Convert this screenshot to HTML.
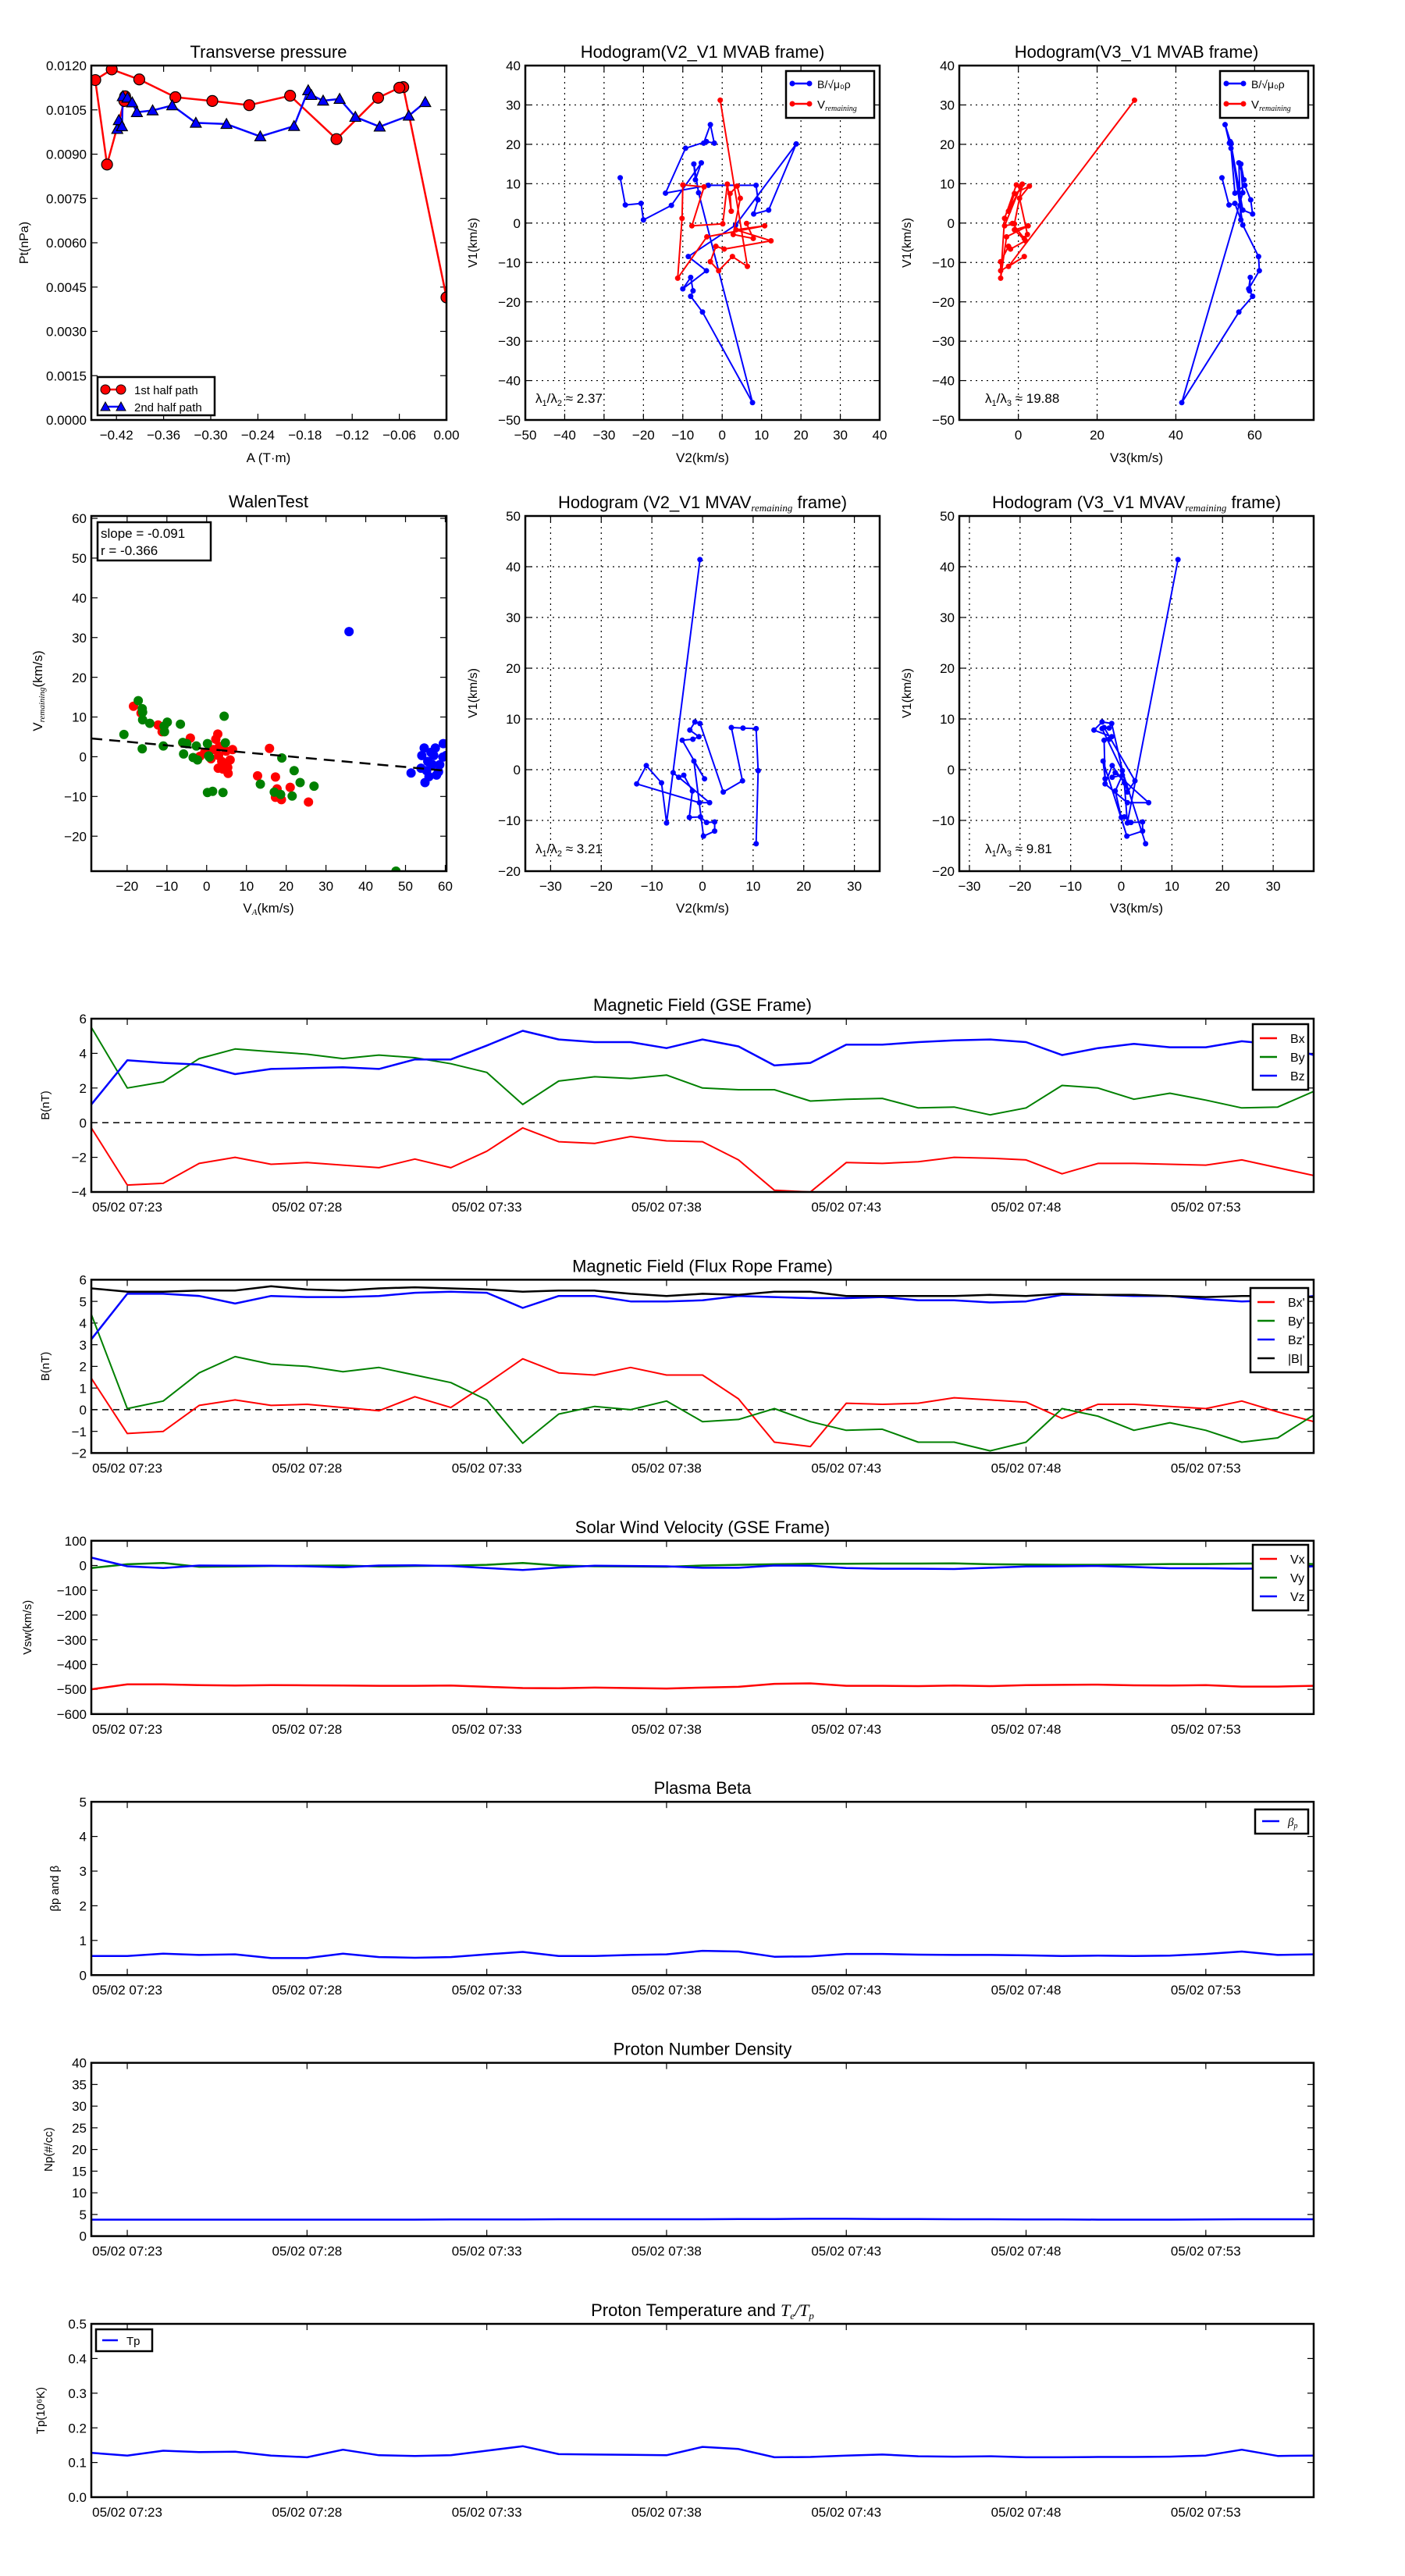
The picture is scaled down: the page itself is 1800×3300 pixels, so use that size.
<!DOCTYPE html>
<html><head><meta charset="utf-8"><title>Flux rope analysis</title>
<style>
html,body{margin:0;padding:0;background:#fff;}
svg{display:block;font-family:"Liberation Sans","DejaVu Sans",sans-serif;}
</style></head>
<body>
<svg id="chart" xmlns="http://www.w3.org/2000/svg" width="1800" height="3300" viewBox="0 0 1800 3300">
<rect x="0" y="0" width="1800" height="3300" fill="#fff"/>
<defs id="defs"></defs>
</svg>
<script>
// ---------- Transverse pressure data ----------
const ptA1 = [0,-0.055,-0.060,-0.087,-0.140,-0.199,-0.251,-0.298,-0.345,-0.391,-0.426,-0.447,-0.432,-0.410,-0.409];
const ptP1 = [0.00415,0.01127,0.01125,0.01091,0.00951,0.01098,0.01066,0.0108,0.01093,0.01153,0.01187,0.01151,0.00865,0.0108,0.01096];
const ptA2 = [-0.419,-0.417,-0.413,-0.412,-0.406,-0.400,-0.394,-0.374,-0.349,-0.319,-0.280,-0.237,-0.194,-0.176,-0.172,-0.157,-0.136,-0.116,-0.085,-0.048,-0.027];
const ptP2 = [0.00985,0.01015,0.00994,0.01096,0.01091,0.01075,0.01042,0.01048,0.01065,0.01006,0.01002,0.0096,0.00995,0.01116,0.011,0.01081,0.01087,0.01026,0.00993,0.0103,0.01076];
const ptYTicks = [0,0.0015,0.003,0.0045,0.006,0.0075,0.009,0.0105,0.012];
const ptXTicks = [-0.42,-0.36,-0.30,-0.24,-0.18,-0.12,-0.06,0.00];

// ---------- Hodogram MVAB ----------
const hbV2 = [-4.7,-3,-2,-4,-9.3,-14.4,-3.5,8.6,9.1,8,11.8,18.8,3.4,-8.6,-4,-10,-8,-7.4,-8,-5,7.7,-6,-7.2,-6.8,-5.3,-12.9,-20,-20.6,-24.6,-25.9];
const hbV1 = [20.3,25,20.3,20.7,19,7.6,9.6,9.6,5.9,2.3,3.3,20.1,-0.5,-8.5,-12.1,-16.7,-13.8,-17.2,-18.6,-22.6,-45.6,7.7,15,11,15.3,4.5,0.8,5,4.6,11.5];
const hbV3 = [53.6,52.5,54,53.8,54,55,57.5,57.5,59,59.5,57,54,57,61,61.2,58.5,58.9,58.7,59.5,56,41.5,57,56.5,57.3,56,56.3,56.5,55,53.5,51.7];
const hrV2 = [-0.5,6.4,2.6,-0.9,-3,-1.6,0.5,12.4,3.5,10.8,-3.9,-11.3,-10.2,-10,-4.6,-7.7,0.15,1.3,2.3,2,3.8,4.6,2.8,7.9,6.2];
const hrV1 = [31.2,-11,-8.5,-12.1,-9.8,-5.9,-6.6,-4.5,-1.7,-0.7,-3.5,-14,1.2,9.7,9.2,-0.7,-0.2,9.9,3,7.5,9.4,6.3,-2.9,-3.9,-0.1];
const hrV3 = [29.5,-2.5,1.5,-4.5,-4.5,-2.5,-2,1.8,-1,2.5,-3,-4.5,-3.5,-0.5,0.5,-3.5,-1,1,-2.5,-1,2.8,0.3,2.3,1.5,-1.5];

// ---------- Hodogram MVAV ----------
const hvV2 = [-0.5,-7.1,-8.1,-11.1,-13,-0.6,1.4,-5.8,-4.7,-3.7,-2,-2.6,-0.4,0.8,2.4,2.4,0.2,-1.7,0.4,-4,-1.9,-0.7,-2.5,-1.5,-0.5,4.1,7.9,5.7,8,10.6,11,10.6];
const hvV1 = [41.4,-10.5,-2.6,0.8,-2.8,-6.5,-6.5,-0.6,-1.5,-1.1,-4.2,-9.4,-9.3,-10.4,-10.3,-12.1,-13.1,1.7,-1.8,5.8,6,6.5,7.8,9.4,9.1,-4.4,-2.2,8.3,8.2,8.1,-0.2,-14.6];
const hvV3 = [11.2,1.2,0.6,-1.8,-3.2,1.2,5.4,-1.2,-1.8,0.2,-1.2,0,0.6,1.9,4.2,4.2,1.1,-3.6,-3.2,-3.4,-2.4,-1.9,-5.4,-3.8,-1.9,1.2,2.7,-3.4,-2.4,-3.8,0.2,4.8];

// ---------- Walen test ----------
const wRedX = [-18.4,-16.5,-12.2,-11.2,-4.1,-6,-0.5,-1.7,1.1,1.7,2.3,2.8,3.2,3,3.8,4.4,2.9,4.1,5.4,5.9,6.5,4.9,5.3,12.8,15.8,17.3,17.7,17.3,18.8,21,25.6];
const wRedY = [12.7,11,8,6.3,4.7,3.5,1.1,0.1,-0.5,1.8,4.4,5.7,2.6,0.3,-1.2,-2,-2.9,-3.1,-4.2,-0.8,1.8,1.4,-2.7,-4.8,2.1,-5.1,-8.1,-10.2,-10.8,-7.7,-11.4];
const wGrnX = [-20.8,-17.2,-16.2,-16.1,-16.1,-16.2,-14.3,-10.7,-9.9,-10.6,-10.9,-6.6,-6,-5,-5.8,-2.6,-3.4,-2.3,0.2,0.5,0.7,4.4,4.7,0.2,1.5,4.1,13.5,17,18.6,18.9,22,21.5,23.5,27,47.6];
const wGrnY = [5.6,14.1,12.1,11.2,9.3,2,8.4,7.7,8.7,6.3,2.7,8.2,3.6,3.3,0.7,2.7,-0.2,-0.8,3.3,0.2,-0.1,10.2,3.5,-9,-8.7,-9,-6.9,-8.9,-9.5,-0.3,-3.5,-9.9,-6.5,-7.4,-28.8];
const wBluX = [35.8,51.4,54.9,53.9,54.1,54.7,57.5,59.5,55.9,57.8,56.8,58.6,55.6,59.4,60.2,56.4,58.3,55.3,57.1];
const wBluY = [31.5,-4.1,-6.5,-2.9,0.3,2.2,2.2,3.3,-5,-4.6,-2,-2,-1.2,-0.1,0.3,1.1,-3.8,-3.5,0.3];
const wSlope = -0.091;
const wIntercept = 1.96;

// ---------- Time series (one point per minute from 07:22) ----------
const tMinutes = [0,1,2,3,4,5,6,7,8,9,10,11,12,13,14,15,16,17,18,19,20,21,22,23,24,25,26,27,28,29,30,31,32,33,34];
const timeTickIdx = [1,6,11,16,21,26,31];
const timeTickLabels = ["05/02 07:23","05/02 07:28","05/02 07:33","05/02 07:38","05/02 07:43","05/02 07:48","05/02 07:53"];
const bx = [-0.3,-3.6,-3.5,-2.35,-2.0,-2.4,-2.3,-2.45,-2.6,-2.1,-2.6,-1.65,-0.3,-1.1,-1.2,-0.8,-1.05,-1.1,-2.15,-3.9,-4.0,-2.3,-2.35,-2.25,-2.0,-2.05,-2.15,-2.95,-2.35,-2.35,-2.4,-2.45,-2.15,-2.6,-3.05];
const by = [5.5,2.0,2.35,3.7,4.25,4.1,3.95,3.7,3.9,3.75,3.4,2.9,1.05,2.4,2.65,2.55,2.75,2.0,1.9,1.9,1.25,1.35,1.4,0.85,0.9,0.45,0.85,2.15,2.0,1.35,1.7,1.3,0.85,0.9,1.8];
const bz = [1.05,3.6,3.45,3.35,2.8,3.1,3.15,3.2,3.1,3.65,3.65,4.45,5.3,4.8,4.65,4.65,4.3,4.8,4.4,3.3,3.45,4.5,4.5,4.65,4.75,4.8,4.65,3.9,4.3,4.55,4.35,4.35,4.7,4.5,3.9];
const bxp = [1.45,-1.1,-1.0,0.2,0.45,0.2,0.25,0.1,-0.05,0.6,0.1,1.2,2.35,1.7,1.6,1.95,1.6,1.6,0.5,-1.5,-1.7,0.3,0.25,0.3,0.55,0.45,0.35,-0.4,0.25,0.25,0.15,0.05,0.4,-0.1,-0.55];
const byp = [4.4,0.05,0.4,1.7,2.45,2.1,2.0,1.75,1.95,1.6,1.25,0.45,-1.55,-0.2,0.15,0.0,0.4,-0.55,-0.45,0.05,-0.55,-0.95,-0.9,-1.5,-1.5,-1.9,-1.5,0.05,-0.3,-0.95,-0.6,-0.95,-1.5,-1.3,-0.25];
const bzp = [3.25,5.35,5.35,5.25,4.9,5.25,5.2,5.2,5.25,5.4,5.45,5.4,4.7,5.25,5.25,5.0,5.0,5.05,5.25,5.2,5.15,5.15,5.2,5.05,5.05,4.95,5.0,5.3,5.3,5.25,5.25,5.1,5.0,5.05,5.25];
const bmag = [5.6,5.45,5.45,5.5,5.5,5.7,5.55,5.5,5.6,5.65,5.6,5.55,5.45,5.5,5.5,5.35,5.25,5.35,5.3,5.45,5.45,5.25,5.25,5.25,5.25,5.3,5.25,5.35,5.3,5.3,5.25,5.2,5.25,5.25,5.2];
const vx = [-500,-480,-480,-483,-485,-483,-484,-485,-486,-486,-485,-490,-495,-496,-493,-495,-497,-493,-490,-478,-476,-486,-486,-487,-485,-487,-483,-482,-481,-484,-485,-483,-489,-489,-486];
const vy = [-10,5,10,-5,-4,-2,-1,0,-4,-2,-1,3,10,0,-3,-4,-5,0,3,5,7,7,8,8,9,5,4,3,3,4,6,6,8,8,6];
const vz = [32,-3,-10,0,-1,-1,-3,-7,0,1,-2,-10,-18,-8,-1,-2,-3,-9,-9,0,-1,-10,-13,-13,-14,-9,-4,-3,-2,-6,-11,-11,-13,-12,-3];
const betaP = [0.55,0.55,0.62,0.58,0.6,0.49,0.49,0.62,0.52,0.5,0.52,0.6,0.67,0.55,0.55,0.58,0.6,0.7,0.68,0.53,0.54,0.61,0.61,0.59,0.58,0.58,0.57,0.55,0.56,0.55,0.56,0.61,0.68,0.58,0.6];
const np = [3.8,3.8,3.8,3.8,3.8,3.8,3.8,3.8,3.8,3.8,3.85,3.85,3.85,3.9,3.9,3.9,3.9,3.9,3.95,3.95,4.0,4.0,3.95,3.95,3.9,3.9,3.85,3.85,3.8,3.8,3.8,3.85,3.9,3.9,3.9];
const tp = [0.128,0.12,0.134,0.13,0.131,0.12,0.115,0.137,0.121,0.119,0.121,0.134,0.147,0.124,0.123,0.122,0.121,0.145,0.139,0.115,0.116,0.12,0.123,0.118,0.117,0.118,0.115,0.115,0.116,0.116,0.117,0.12,0.137,0.119,0.12];

const NS = 'http://www.w3.org/2000/svg';
const svg = document.getElementById('chart');
const defs = document.getElementById('defs');
let clipId = 0;

function mk(tag, parent, a) {
  const e = document.createElementNS(NS, tag);
  for (const k in a) e.setAttribute(k, a[k]);
  parent.appendChild(e);
  return e;
}
function txt(parent, x, y, s, size, anchor, name, extra) {
  const t = mk('text', parent, Object.assign({x: x, y: y, 'font-size': size, 'text-anchor': anchor || 'middle', fill: '#000'}, extra || {}));
  t.textContent = s;
  
  
  return t;
}
function fmtMinus(v, d) { const s = v.toFixed(d); return s.replace('-', '\u2212'); }

// Creates an axes frame; returns scales and a clipped plot group
function axes(name, b, xmin, xmax, ymin, ymax, o) {
  const g = mk('g', svg, {});
  
  
  const sx = v => b.x0 + (v - xmin) / (xmax - xmin) * (b.x1 - b.x0);
  const sy = v => b.y1 - (v - ymin) / (ymax - ymin) * (b.y1 - b.y0);
  const cid = 'clip' + (clipId++);
  const cp = mk('clipPath', defs, {id: cid});
  mk('rect', cp, {x: b.x0, y: b.y0, width: b.x1 - b.x0, height: b.y1 - b.y0});
  const grid = mk('g', g, {});
  
  
  const ticks = mk('g', g, {});
  
  
  const fs = o.fs || 17;
  o.xticks.forEach((v, i) => {
    const X = sx(v);
    if (o.grid) mk('line', grid, {x1: X, x2: X, y1: b.y0, y2: b.y1, stroke: '#000', 'stroke-width': 1.2, 'stroke-dasharray': '2,5'});
    mk('line', ticks, {x1: X, x2: X, y1: b.y1, y2: b.y1 - 8, stroke: '#000', 'stroke-width': 1.2});
    mk('line', ticks, {x1: X, x2: X, y1: b.y0, y2: b.y0 + 8, stroke: '#000', 'stroke-width': 1.2});
    txt(g, X, b.y1 + fs + 8, o.xlabels[i], fs, 'middle', 'x-tick-label');
  });
  o.yticks.forEach((v, i) => {
    const Y = sy(v);
    if (o.grid) mk('line', grid, {x1: b.x0, x2: b.x1, y1: Y, y2: Y, stroke: '#000', 'stroke-width': 1.2, 'stroke-dasharray': '2,5'});
    mk('line', ticks, {x1: b.x0, x2: b.x0 + 8, y1: Y, y2: Y, stroke: '#000', 'stroke-width': 1.2});
    mk('line', ticks, {x1: b.x1, x2: b.x1 - 8, y1: Y, y2: Y, stroke: '#000', 'stroke-width': 1.2});
    txt(g, b.x0 - 6, Y + fs * 0.36, o.ylabels[i], fs, 'end', 'y-tick-label');
  });
  const plot = mk('g', g, {'clip-path': 'url(#' + cid + ')'});
  
  
  return {g: g, plot: plot, sx: sx, sy: sy, b: b};
}
function frame(ax) {
  const b = ax.b;
  const r = mk('rect', ax.g, {x: b.x0, y: b.y0, width: b.x1 - b.x0, height: b.y1 - b.y0, fill: 'none', stroke: '#000', 'stroke-width': 2.5});
  
  
}
function series(ax, xs, ys, color, name, w) {
  const pts = xs.map((x, i) => ax.sx(x).toFixed(1) + ',' + ax.sy(ys[i]).toFixed(1)).join(' ');
  const p = mk('polyline', ax.plot, {points: pts, fill: 'none', stroke: color, 'stroke-width': w || 2, 'stroke-linejoin': 'round'});
  
  
  return p;
}
function dots(ax, xs, ys, color, r, name, stroke) {
  xs.forEach((x, i) => {
    const c = mk('circle', ax.plot, {cx: ax.sx(x), cy: ax.sy(ys[i]), r: r, fill: color, stroke: stroke || 'none', 'stroke-width': 1.2});
    
    
  });
}
function tris(ax, xs, ys, color, s, name) {
  xs.forEach((x, i) => {
    const X = ax.sx(x), Y = ax.sy(ys[i]);
    const t = mk('polygon', ax.plot, {points: [X, Y - s, X - s, Y + s * 0.8, X + s, Y + s * 0.8].join(','), fill: color, stroke: '#000', 'stroke-width': 1.2});
    
    
  });
}
function ylab(x, y, s, name, size) {
  const t = txt(svg, x, y, s, size || 16, 'middle', name, {transform: 'rotate(-90 ' + x + ' ' + y + ')'});
  return t;
}
function legendBox(x0, y0, x1, y1, name) {
  const r = mk('rect', svg, {x: x0, y: y0, width: x1 - x0, height: y1 - y0, fill: '#fff', stroke: '#000', 'stroke-width': 2.5});
  
  
}
function legLine(x, y, len, color, name, marker) {
  const l = mk('line', svg, {x1: x, x2: x + len, y1: y, y2: y, stroke: color, 'stroke-width': 2.5});
  
  
}

const range = (a, b, s) => { const r = []; for (let v = a; v <= b + 1e-9; v += s) r.push(+v.toFixed(6)); return r; };

// ===== Panel 1: Transverse pressure =====
{
  const ax = axes('transverse-pressure-chart', {x0: 117, x1: 572, y0: 84, y1: 538}, -0.452, 0, 0, 0.012,
    {xticks: ptXTicks, xlabels: ptXTicks.map(v => fmtMinus(v, 2)), yticks: ptYTicks, ylabels: ptYTicks.map(v => v.toFixed(4))});
  series(ax, ptA1, ptP1, '#f00', 'first-half-path-line', 2.5);
  series(ax, ptA2, ptP2, '#00f', 'second-half-path-line', 2.5);
  dots(ax, ptA1, ptP1, '#f00', 7, 'first-half-point', '#000');
  tris(ax, ptA2, ptP2, '#00f', 7, 'second-half-point');
  frame(ax);
  txt(svg, 344, 74, 'Transverse pressure', 22, 'middle', 'chart-title');
  txt(svg, 344, 592, 'A (T\u00b7m)', 17, 'middle', 'x-axis-title');
  ylab(36, 311, 'Pt(nPa)', 'y-axis-title');
  legendBox(125, 483, 275, 532, 'legend');
  legLine(135, 499, 20, '#f00', 'legend-line-first');
  mk('circle', svg, {cx: 135, cy: 499, r: 6, fill: '#f00', stroke: '#000'});
  mk('circle', svg, {cx: 155, cy: 499, r: 6, fill: '#f00', stroke: '#000'});
  txt(svg, 172, 505, '1st half path', 15, 'start', 'legend-label-first');
  legLine(135, 521, 20, '#00f', 'legend-line-second');
  mk('polygon', svg, {points: '135,515 129,526 141,526', fill: '#00f', stroke: '#000'});
  mk('polygon', svg, {points: '155,515 149,526 161,526', fill: '#00f', stroke: '#000'});
  txt(svg, 172, 527, '2nd half path', 15, 'start', 'legend-label-second');
}

function hodoLegend(x0, name) {
  legendBox(x0, 91, x0 + 113, 151, name);
  legLine(x0 + 8, 107, 22, '#00f', 'legend-line-b');
  mk('circle', svg, {cx: x0 + 8, cy: 107, r: 3.5, fill: '#00f'});
  mk('circle', svg, {cx: x0 + 30, cy: 107, r: 3.5, fill: '#00f'});
  const t1 = txt(svg, x0 + 40, 113, 'B/\u221a\u03bc\u2080\u03c1', 14, 'start', 'legend-label-b');
  legLine(x0 + 8, 133, 22, '#f00', 'legend-line-v');
  mk('circle', svg, {cx: x0 + 8, cy: 133, r: 3.5, fill: '#f00'});
  mk('circle', svg, {cx: x0 + 30, cy: 133, r: 3.5, fill: '#f00'});
  const t2 = txt(svg, x0 + 40, 139, 'V', 15, 'start', 'legend-label-v');
  const sub = mk('tspan', t2, {'font-size': 10, dy: 3, 'font-style': 'italic', 'font-family': 'Liberation Serif, serif'});
  sub.textContent = 'remaining';
}
function lambdaText(x, y, a, b, val, name) {
  const t = txt(svg, x, y, '', 17, 'start', name);
  const p = [['\u03bb', 0, 17], ['1', 4, 11], ['/\u03bb', -4, 17], [b, 4, 11], [' \u2248 ' + val, -4, 17]];
  p.forEach(q => { const s = mk('tspan', t, {dy: q[1], 'font-size': q[2]}); s.textContent = q[0]; });
}

// ===== Panel 2: Hodogram V2-V1 MVAB =====
{
  const xt = range(-50, 40, 10), yt = range(-50, 40, 10);
  const ax = axes('hodogram-v2-v1-mvab', {x0: 673, x1: 1127, y0: 84, y1: 538}, -50, 40, -50, 40,
    {grid: true, xticks: xt, xlabels: xt.map(v => fmtMinus(v, 0)), yticks: yt, ylabels: yt.map(v => fmtMinus(v, 0))});
  series(ax, hbV2, hbV1, '#00f', 'b-alfven-line', 2);
  dots(ax, hbV2, hbV1, '#00f', 3.5, 'b-alfven-point');
  series(ax, hrV2, hrV1, '#f00', 'v-remaining-line', 2);
  dots(ax, hrV2, hrV1, '#f00', 3.5, 'v-remaining-point');
  frame(ax);
  txt(svg, 900, 74, 'Hodogram(V2_V1 MVAB frame)', 22, 'middle', 'chart-title');
  txt(svg, 900, 592, 'V2(km/s)', 17, 'middle', 'x-axis-title');
  ylab(611, 311, 'V1(km/s)', 'y-axis-title');
  hodoLegend(1007, 'legend');
  lambdaText(686, 516, '1', '2', '2.37', 'eigenvalue-ratio');
}
// ===== Panel 3: Hodogram V3-V1 MVAB =====
{
  const xt = [0, 20, 40, 60], yt = range(-50, 40, 10);
  const ax = axes('hodogram-v3-v1-mvab', {x0: 1229, x1: 1683, y0: 84, y1: 538}, -15, 75, -50, 40,
    {grid: true, xticks: xt, xlabels: xt.map(v => fmtMinus(v, 0)), yticks: yt, ylabels: yt.map(v => fmtMinus(v, 0))});
  series(ax, hbV3, hbV1, '#00f', 'b-alfven-line', 2);
  dots(ax, hbV3, hbV1, '#00f', 3.5, 'b-alfven-point');
  series(ax, hrV3, hrV1, '#f00', 'v-remaining-line', 2);
  dots(ax, hrV3, hrV1, '#f00', 3.5, 'v-remaining-point');
  frame(ax);
  txt(svg, 1456, 74, 'Hodogram(V3_V1 MVAB frame)', 22, 'middle', 'chart-title');
  txt(svg, 1456, 592, 'V3(km/s)', 17, 'middle', 'x-axis-title');
  ylab(1167, 311, 'V1(km/s)', 'y-axis-title');
  hodoLegend(1563, 'legend');
  lambdaText(1262, 516, '1', '3', '19.88', 'eigenvalue-ratio');
}
// ===== Panel 4: Walen test =====
{
  const xt = range(-20, 60, 10), yt = range(-20, 60, 10);
  const ax = axes('walen-test-chart', {x0: 117, x1: 572, y0: 661, y1: 1116}, -29, 60.3, -28.8, 60.6,
    {xticks: xt, xlabels: xt.map(v => fmtMinus(v, 0)), yticks: yt, ylabels: yt.map(v => fmtMinus(v, 0))});
  dots(ax, wRedX, wRedY, '#f00', 6, 'walen-red-point');
  dots(ax, wGrnX, wGrnY, '#008000', 6, 'walen-green-point');
  dots(ax, wBluX, wBluY, '#00f', 6, 'walen-blue-point');
  const l = mk('line', ax.plot, {x1: ax.sx(-29), y1: ax.sy(wSlope * -29 + wIntercept), x2: ax.sx(60.3), y2: ax.sy(wSlope * 60.3 + wIntercept), stroke: '#000', 'stroke-width': 2.5, 'stroke-dasharray': '14,9'});
  
  
  frame(ax);
  txt(svg, 344, 650, 'WalenTest', 22, 'middle', 'chart-title');
  const xl = txt(svg, 344, 1169, 'V', 17, 'middle', 'x-axis-title');
  const xs1 = mk('tspan', xl, {'font-size': 11, dy: 3, 'font-style': 'italic', 'font-family': 'Liberation Serif, serif'}); xs1.textContent = 'A';
  const xs2 = mk('tspan', xl, {dy: -3}); xs2.textContent = '(km/s)';
  const yl = ylab(54, 885, 'V', 'y-axis-title', 17);
  const ys1 = mk('tspan', yl, {'font-size': 11, dy: 3, 'font-style': 'italic', 'font-family': 'Liberation Serif, serif'}); ys1.textContent = 'remaining';
  const ys2 = mk('tspan', yl, {dy: -3}); ys2.textContent = '(km/s)';
  legendBox(125, 669, 270, 718, 'fit-stats-box');
  txt(svg, 129, 689, 'slope = -0.091', 17, 'start', 'slope-text');
  txt(svg, 129, 711, 'r = -0.366', 17, 'start', 'r-text');
}
// ===== Panel 5: Hodogram V2-V1 MVAV =====
function mvavTitle(cx, y, s, name) {
  const t = txt(svg, cx, y, s, 22, 'middle', name);
  const a = mk('tspan', t, {'font-size': 13, dy: 4, 'font-style': 'italic', 'font-family': 'Liberation Serif, serif'}); a.textContent = 'remaining';
  const b = mk('tspan', t, {dy: -4}); b.textContent = ' frame)';
}
{
  const xt = range(-30, 30, 10), yt = range(-20, 50, 10);
  const ax = axes('hodogram-v2-v1-mvav', {x0: 673, x1: 1127, y0: 661, y1: 1116}, -35, 35, -20, 50,
    {grid: true, xticks: xt, xlabels: xt.map(v => fmtMinus(v, 0)), yticks: yt, ylabels: yt.map(v => fmtMinus(v, 0))});
  series(ax, hvV2, hvV1, '#00f', 'v-remaining-line', 2);
  dots(ax, hvV2, hvV1, '#00f', 3.5, 'v-remaining-point');
  frame(ax);
  mvavTitle(900, 651, 'Hodogram (V2_V1 MVAV', 'chart-title');
  txt(svg, 900, 1169, 'V2(km/s)', 17, 'middle', 'x-axis-title');
  ylab(611, 888, 'V1(km/s)', 'y-axis-title');
  lambdaText(686, 1093, '1', '2', '3.21', 'eigenvalue-ratio');
}
// ===== Panel 6: Hodogram V3-V1 MVAV =====
{
  const xt = range(-30, 30, 10), yt = range(-20, 50, 10);
  const ax = axes('hodogram-v3-v1-mvav', {x0: 1229, x1: 1683, y0: 661, y1: 1116}, -32, 38, -20, 50,
    {grid: true, xticks: xt, xlabels: xt.map(v => fmtMinus(v, 0)), yticks: yt, ylabels: yt.map(v => fmtMinus(v, 0))});
  series(ax, hvV3, hvV1, '#00f', 'v-remaining-line', 2);
  dots(ax, hvV3, hvV1, '#00f', 3.5, 'v-remaining-point');
  frame(ax);
  mvavTitle(1456, 651, 'Hodogram (V3_V1 MVAV', 'chart-title');
  txt(svg, 1456, 1169, 'V3(km/s)', 17, 'middle', 'x-axis-title');
  ylab(1167, 888, 'V1(km/s)', 'y-axis-title');
  lambdaText(1262, 1093, '1', '3', '9.81', 'eigenvalue-ratio');
}

// ===== Time series panels =====
function tsPanel(i, name, title, ymin, ymax, yt, yfmt, ylabelText, ylx) {
  const top = 1305 + i * 334.4;
  const ax = axes(name, {x0: 117, x1: 1683, y0: top, y1: top + 222}, 0, 34, ymin, ymax,
    {xticks: timeTickIdx, xlabels: timeTickLabels, yticks: yt, ylabels: yt.map(yfmt), fs: 17});
  txt(svg, 900, top - 10, title, 22, 'middle', 'chart-title');
  ylab(ylx, top + 111, ylabelText, 'y-axis-title', 15);
  return ax;
}
function zeroLine(ax) {
  const l = mk('line', ax.plot, {x1: ax.b.x0, x2: ax.b.x1, y1: ax.sy(0), y2: ax.sy(0), stroke: '#000', 'stroke-width': 1.5, 'stroke-dasharray': '8,6'});
  
  
}
function tsLegend(x0, y0, x1, entries, name) {
  const h = 12 + entries.length * 24;
  legendBox(x0, y0, x1, y0 + h, name);
  entries.forEach((e, k) => {
    const y = y0 + 18 + k * 24;
    legLine(x0 + 9, y, 22, e[1], 'legend-line');
    txt(svg, x0 + 48, y + 6, e[0], 16, 'start', 'legend-label');
  });
}
const m1 = v => fmtMinus(v, 0);
{
  const ax = tsPanel(0, 'magnetic-field-gse-chart', 'Magnetic Field (GSE Frame)', -4, 6, range(-4, 6, 2), m1, 'B(nT)', 63);
  zeroLine(ax);
  series(ax, tMinutes, bx, '#f00', 'bx-line');
  series(ax, tMinutes, by, '#008000', 'by-line');
  series(ax, tMinutes, bz, '#00f', 'bz-line', 2.5);
  frame(ax);
  tsLegend(1605, 1312, 1676, [['Bx', '#f00'], ['By', '#008000'], ['Bz', '#00f']], 'legend');
}
{
  const ax = tsPanel(1, 'magnetic-field-flux-rope-chart', 'Magnetic Field (Flux Rope Frame)', -2, 6, range(-2, 6, 1), m1, 'B(nT)', 63);
  zeroLine(ax);
  series(ax, tMinutes, bxp, '#f00', 'bx-prime-line');
  series(ax, tMinutes, byp, '#008000', 'by-prime-line');
  series(ax, tMinutes, bzp, '#00f', 'bz-prime-line', 2.5);
  series(ax, tMinutes, bmag, '#000', 'b-magnitude-line', 2.5);
  frame(ax);
  tsLegend(1602, 1650, 1676, [["Bx'", '#f00'], ["By'", '#008000'], ["Bz'", '#00f'], ['|B|', '#000']], 'legend');
}
{
  const ax = tsPanel(2, 'solar-wind-velocity-chart', 'Solar Wind Velocity (GSE Frame)', -600, 100, range(-600, 100, 100), m1, 'Vsw(km/s)', 40);
  series(ax, tMinutes, vx, '#f00', 'vx-line', 2.5);
  series(ax, tMinutes, vy, '#008000', 'vy-line', 2.5);
  series(ax, tMinutes, vz, '#00f', 'vz-line', 2.5);
  frame(ax);
  tsLegend(1605, 1979, 1676, [['Vx', '#f00'], ['Vy', '#008000'], ['Vz', '#00f']], 'legend');
}
{
  const ax = tsPanel(3, 'plasma-beta-chart', 'Plasma Beta', 0, 5, range(0, 5, 1), m1, '\u03b2p and \u03b2', 75);
  series(ax, tMinutes, betaP, '#00f', 'beta-p-line', 2.5);
  frame(ax);
  legendBox(1608, 2318, 1676, 2349, 'legend');
  legLine(1617, 2333, 22, '#00f', 'legend-line');
  const lt = txt(svg, 1650, 2339, '\u03b2', 15, 'start', 'legend-label', {'font-style': 'italic', 'font-family': 'Liberation Serif, serif'});
  const ls = mk('tspan', lt, {'font-size': 10, dy: 3}); ls.textContent = 'p';
}
{
  const ax = tsPanel(4, 'proton-density-chart', 'Proton Number Density', 0, 40, range(0, 40, 5), m1, 'Np(#/cc)', 67);
  series(ax, tMinutes, np, '#00f', 'np-line', 2.5);
  frame(ax);
}
{
  const ax = tsPanel(5, 'proton-temperature-chart', '', 0, 0.5, range(0, 0.5, 0.1), v => v.toFixed(1), 'Tp(10\u2076K)', 57);
  series(ax, tMinutes, tp, '#00f', 'tp-line', 2.5);
  frame(ax);
  const tt = txt(svg, 900, 2967, 'Proton Temperature and ', 22, 'middle', 'chart-title');
  const a = mk('tspan', tt, {'font-style': 'italic', 'font-family': 'Liberation Serif, serif'}); a.textContent = 'T';
  const b = mk('tspan', tt, {'font-size': 13, dy: 4, 'font-style': 'italic', 'font-family': 'Liberation Serif, serif'}); b.textContent = 'e';
  const c = mk('tspan', tt, {dy: -4, 'font-style': 'italic', 'font-family': 'Liberation Serif, serif'}); c.textContent = '/T';
  const d = mk('tspan', tt, {'font-size': 13, dy: 4, 'font-style': 'italic', 'font-family': 'Liberation Serif, serif'}); d.textContent = 'p';
  legendBox(123, 2984, 195, 3012, 'legend');
  legLine(131, 2998, 20, '#00f', 'legend-line');
  txt(svg, 162, 3004, 'Tp', 15, 'start', 'legend-label');
}
</script>
</body></html>
